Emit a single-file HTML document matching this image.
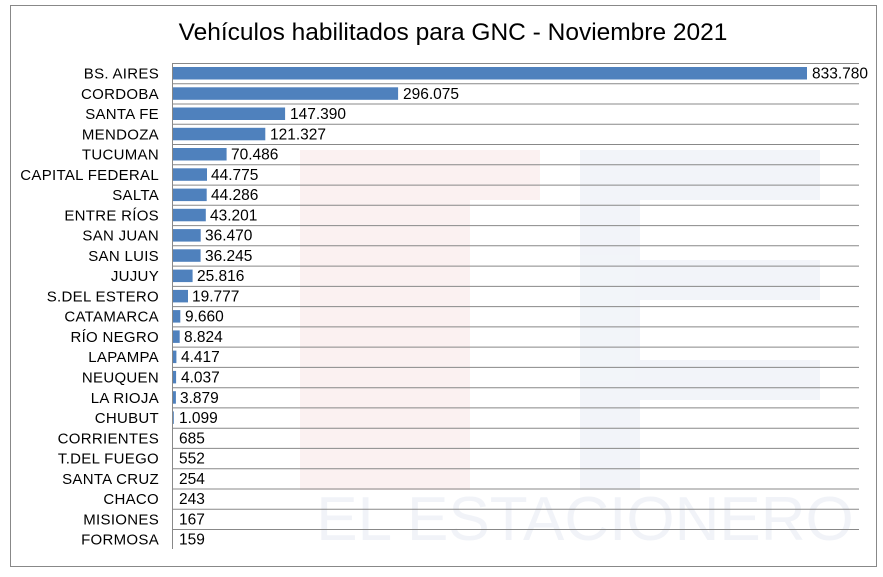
<!DOCTYPE html>
<html><head><meta charset="utf-8"><style>
body{margin:0;background:#fff;}
svg{display:block;font-family:"Liberation Sans",sans-serif;}
.l{font-size:15px;text-anchor:end;letter-spacing:0.3px}
.v{font-size:15.5px}
.g{stroke:#888;stroke-width:1}
.b{fill:#4f81bd}
</style></head><body>
<svg width="883" height="577" xmlns="http://www.w3.org/2000/svg">
<rect x="0" y="0" width="883" height="577" fill="#fff"/>
<rect x="10.5" y="5.5" width="866" height="561" fill="none" stroke="#888" stroke-width="1"/>
<g opacity="0.5">
<rect x="300" y="150" width="170" height="340" fill="#f8e4e4"/>
<rect x="300" y="150" width="240" height="50" fill="#f8e4e4"/>
<rect x="580" y="150" width="240" height="340" fill="#e6ebf4"/>
<rect x="640" y="200" width="180" height="60" fill="#fff"/>
<rect x="640" y="300" width="180" height="60" fill="#fff"/>
<rect x="640" y="400" width="180" height="90" fill="#fff"/>
<text x="585" y="540" text-anchor="middle" font-size="62" fill="#e4e9f2">EL ESTACIONERO</text>
</g>
<text x="453" y="40" text-anchor="middle" font-size="24.5" fill="#000">Vehículos habilitados para GNC - Noviembre 2021</text>
<g class="g">
<line x1="172" y1="63.5" x2="859" y2="63.5"/>
<line x1="172" y1="83.8" x2="859" y2="83.8"/>
<line x1="172" y1="104" x2="859" y2="104"/>
<line x1="172" y1="124.3" x2="859" y2="124.3"/>
<line x1="172" y1="144.5" x2="859" y2="144.5"/>
<line x1="172" y1="164.8" x2="859" y2="164.8"/>
<line x1="172" y1="185.1" x2="859" y2="185.1"/>
<line x1="172" y1="205.3" x2="859" y2="205.3"/>
<line x1="172" y1="225.6" x2="859" y2="225.6"/>
<line x1="172" y1="245.8" x2="859" y2="245.8"/>
<line x1="172" y1="266.1" x2="859" y2="266.1"/>
<line x1="172" y1="286.4" x2="859" y2="286.4"/>
<line x1="172" y1="306.6" x2="859" y2="306.6"/>
<line x1="172" y1="326.9" x2="859" y2="326.9"/>
<line x1="172" y1="347.1" x2="859" y2="347.1"/>
<line x1="172" y1="367.4" x2="859" y2="367.4"/>
<line x1="172" y1="387.7" x2="859" y2="387.7"/>
<line x1="172" y1="407.9" x2="859" y2="407.9"/>
<line x1="172" y1="428.2" x2="859" y2="428.2"/>
<line x1="172" y1="448.4" x2="859" y2="448.4"/>
<line x1="172" y1="468.7" x2="859" y2="468.7"/>
<line x1="172" y1="489" x2="859" y2="489"/>
<line x1="172" y1="509.2" x2="859" y2="509.2"/>
<line x1="172" y1="529.5" x2="859" y2="529.5"/>
<line x1="172.5" y1="63" x2="172.5" y2="549"/>
</g>
<g class="b">
<rect x="173" y="67" width="634" height="12.5"/>
<rect x="173" y="87.3" width="225.1" height="12.5"/>
<rect x="173" y="107.5" width="112.1" height="12.5"/>
<rect x="173" y="127.8" width="92.3" height="12.5"/>
<rect x="173" y="148" width="53.6" height="12.5"/>
<rect x="173" y="168.3" width="34" height="12.5"/>
<rect x="173" y="188.6" width="33.7" height="12.5"/>
<rect x="173" y="208.8" width="32.8" height="12.5"/>
<rect x="173" y="229.1" width="27.7" height="12.5"/>
<rect x="173" y="249.3" width="27.6" height="12.5"/>
<rect x="173" y="269.6" width="19.6" height="12.5"/>
<rect x="173" y="289.9" width="15" height="12.5"/>
<rect x="173" y="310.1" width="7.3" height="12.5"/>
<rect x="173" y="330.4" width="6.7" height="12.5"/>
<rect x="173" y="350.6" width="3.4" height="12.5"/>
<rect x="173" y="370.9" width="3.1" height="12.5"/>
<rect x="173" y="391.2" width="2.9" height="12.5"/>
<rect x="173" y="411.4" width="0.8" height="12.5"/>
</g>
<g class="l">
<text x="159" y="78.6">BS. AIRES</text>
<text x="159" y="98.9">CORDOBA</text>
<text x="159" y="119.1">SANTA FE</text>
<text x="159" y="139.4">MENDOZA</text>
<text x="159" y="159.6">TUCUMAN</text>
<text x="159" y="179.9">CAPITAL FEDERAL</text>
<text x="159" y="200.2">SALTA</text>
<text x="159" y="220.4">ENTRE RÍOS</text>
<text x="159" y="240.7">SAN JUAN</text>
<text x="159" y="260.9">SAN LUIS</text>
<text x="159" y="281.2">JUJUY</text>
<text x="159" y="301.5">S.DEL ESTERO</text>
<text x="159" y="321.7">CATAMARCA</text>
<text x="159" y="342">RÍO NEGRO</text>
<text x="159" y="362.2">LAPAMPA</text>
<text x="159" y="382.5">NEUQUEN</text>
<text x="159" y="402.8">LA RIOJA</text>
<text x="159" y="423">CHUBUT</text>
<text x="159" y="443.3">CORRIENTES</text>
<text x="159" y="463.5">T.DEL FUEGO</text>
<text x="159" y="483.8">SANTA CRUZ</text>
<text x="159" y="504.1">CHACO</text>
<text x="159" y="524.3">MISIONES</text>
<text x="159" y="544.6">FORMOSA</text>
</g>
<g class="v">
<text x="812" y="78.6">833.780</text>
<text x="403" y="98.9">296.075</text>
<text x="290" y="119.1">147.390</text>
<text x="270" y="139.4">121.327</text>
<text x="231" y="159.6">70.486</text>
<text x="211" y="179.9">44.775</text>
<text x="211" y="200.2">44.286</text>
<text x="210" y="220.4">43.201</text>
<text x="205" y="240.7">36.470</text>
<text x="205" y="260.9">36.245</text>
<text x="197" y="281.2">25.816</text>
<text x="192" y="301.5">19.777</text>
<text x="185" y="321.7">9.660</text>
<text x="184" y="342">8.824</text>
<text x="181" y="362.2">4.417</text>
<text x="181" y="382.5">4.037</text>
<text x="180" y="402.8">3.879</text>
<text x="179" y="423">1.099</text>
<text x="179" y="443.3">685</text>
<text x="179" y="463.5">552</text>
<text x="179" y="483.8">254</text>
<text x="179" y="504.1">243</text>
<text x="179" y="524.3">167</text>
<text x="179" y="544.6">159</text>
</g>
</svg>
</body></html>
